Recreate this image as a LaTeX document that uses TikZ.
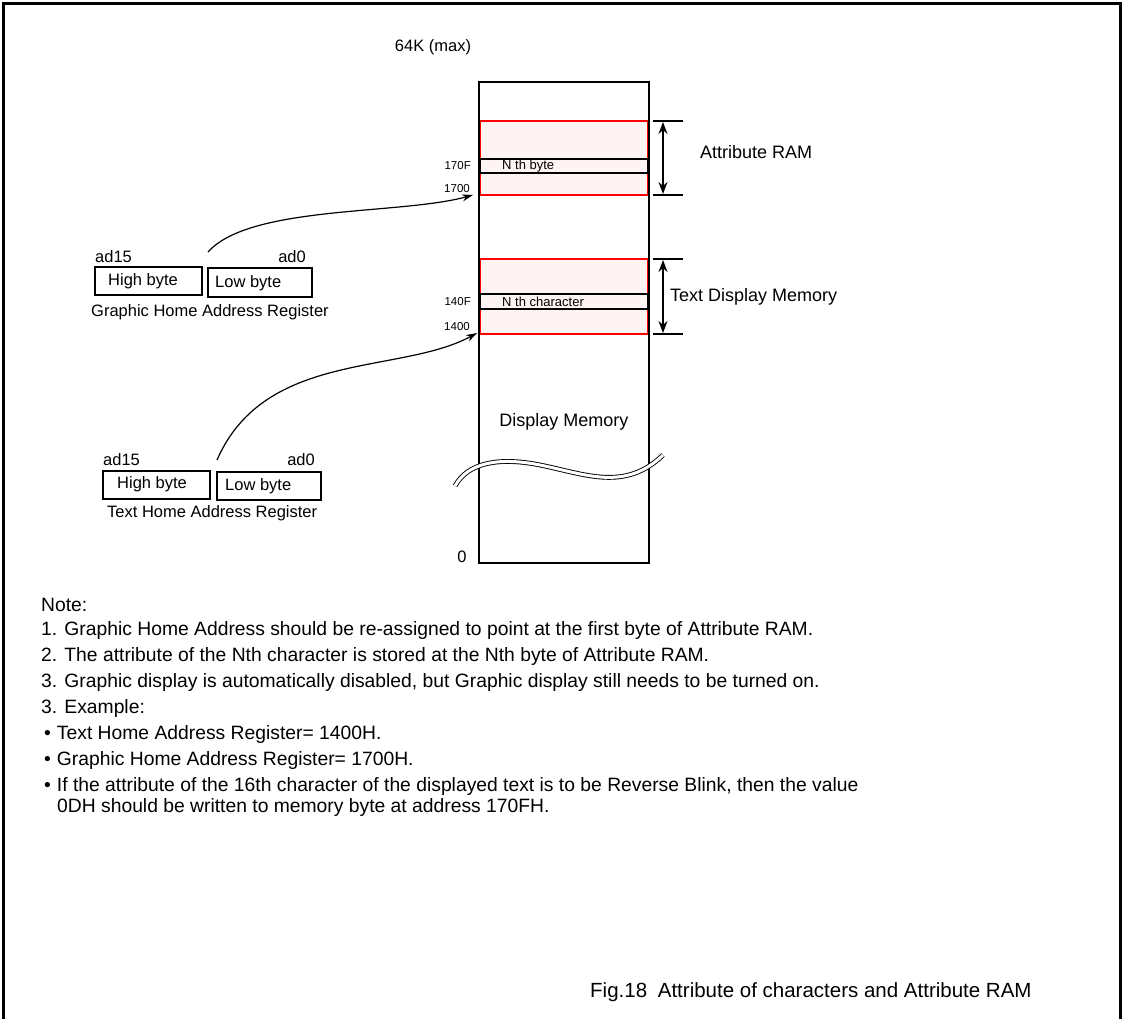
\documentclass[tikz,border=0pt]{standalone}
\usepackage{fontspec}
\setmainfont{Liberation Sans}
\usetikzlibrary{arrows.meta,positioning}
\definecolor{ramfill}{RGB}{255,244,244}
\tikzset{
  ramblock/.style={draw=red, fill=ramfill, line width=1.5pt},
  slot/.style={draw=black, fill=ramfill, line width=1.5pt},
  regbox/.style={draw=black, line width=1.6pt},
  addr/.style={anchor=east, inner sep=0pt, font=\fontsize{11.5}{13}\selectfont},
  label/.style={anchor=west, inner sep=0pt, font=\fontsize{18}{20}\selectfont},
  small/.style={inner sep=0pt, font=\fontsize{16.5}{18}\selectfont},
  notetext/.style={anchor=west, inner sep=0pt, font=\fontsize{19.3}{22}\selectfont},
  pointer/.style={line width=1.2pt, -{Stealth[length=11pt,width=7pt]}},
  dimline/.style={line width=1.4pt}
}
\begin{document}
\begin{tikzpicture}[x=1pt,y=-1pt]
\useasboundingbox (0,0) rectangle (1122,1019);
% outer frame, open at the bottom
\draw[line width=3pt] (3,1019) -- (3,4) -- (1120,4) -- (1120,1019);

\node[small] (max) at (433,47) {64K (max)};

% memory column
\draw[ramblock] (480,121) rectangle (648,159);
\draw[ramblock] (480,173) rectangle (648,195);
\draw[slot] (480,159) rectangle (648,173);
\draw[ramblock] (480,259) rectangle (648,294);
\draw[ramblock] (480,309) rectangle (648,334);
\draw[slot] (480,294) rectangle (648,309);
\draw[line width=2.5pt] (479,82) rectangle (649,563);

\node[anchor=west, inner sep=0pt, font=\fontsize{13}{15}\selectfont] (nbyte) at (502,166) {N th byte};
\node[anchor=west, inner sep=0pt, font=\fontsize{13}{15}\selectfont] (nchar) at (502,302) {N th character};

\node[addr] (a170F) at (471,166) {170F};
\node[addr] (a1700) at (470,189) {1700};
\node[addr] (a140F) at (471,302) {140F};
\node[addr] (a1400) at (470,327) {1400};
\coordinate (p1700) at (473,195);
\coordinate (p1400) at (477,333);

\node[label, anchor=center] (dispmem) at (564,422) {Display Memory};
\node[small] (zero) at (462,557) {0};

% break in the column
\draw[line width=0.9pt, double=white, double distance=3pt]
  (455,486) .. controls (468,462) and (500,457) .. (540,465)
  .. controls (585,474) and (625,492) .. (663,455);

% dimension marks
\draw[dimline] (653,121) -- (683,121);
\draw[dimline] (653,195) -- (683,195);
\draw[dimline, {Stealth[length=12pt,width=9pt]}-{Stealth[length=12pt,width=9pt]}] (663,122) -- (663,194);
\node[label] (attr) at (700,152) {Attribute RAM};

\draw[dimline] (653,259) -- (683,259);
\draw[dimline] (653,334) -- (683,334);
\draw[dimline, {Stealth[length=12pt,width=9pt]}-{Stealth[length=12pt,width=9pt]}] (663,260) -- (663,333);
\node[label] (tdm) at (670,297) {Text Display Memory};

% graphic home address register
\node[small, anchor=west] (gad15) at (95,257) {ad15};
\node[small, anchor=east] (gad0) at (306,257) {ad0};
\draw[regbox] (95,267) rectangle (202,295);
\draw[regbox] (208,268) rectangle (312,297);
\node[small, anchor=west] (ghigh) at (108,281) {High byte};
\node[small, anchor=west] (glow) at (215,283) {Low byte};
\node[small, anchor=west] (gname) at (91,312) {Graphic Home Address Register};
\coordinate (gstart) at (208,252);

% text home address register
\node[small, anchor=west] (tad15) at (103,460) {ad15};
\node[small, anchor=east] (tad0) at (315,460) {ad0};
\draw[regbox] (103,471) rectangle (210,499);
\draw[regbox] (217,472) rectangle (321,500);
\node[small, anchor=west] (thigh) at (117,484) {High byte};
\node[small, anchor=west] (tlow) at (225,486) {Low byte};
\node[small, anchor=west] (tname) at (107,513) {Text Home Address Register};
\coordinate (tstart) at (217,460);

% pointers
\draw[pointer] (gstart) .. controls (250,205) and (400,215) .. (p1700);
\draw[pointer] (tstart) .. controls (265,350) and (400,375) .. (p1400);

% notes
\node[notetext] (note) at (41,605) {Note:};
\node[notetext] (n1) at (41,631) {1. Graphic Home Address should be re-assigned to point at the first byte of Attribute RAM.};
\node[notetext] (n2) at (41,657) {2. The attribute of the Nth character is stored at the Nth byte of Attribute RAM.};
\node[notetext] (n3) at (41,683) {3. Graphic display is automatically disabled, but Graphic display still needs to be turned on.};
\node[notetext] (n4) at (41,709) {3. Example:};
\node[notetext] (b1) at (44,735) {•\hspace{6pt}Text Home Address Register= 1400H.};
\node[notetext] (b2) at (44,761) {•\hspace{6pt}Graphic Home Address Register= 1700H.};
\node[notetext] (b3) at (44,787) {•\hspace{6pt}If the attribute of the 16th character of the displayed text is to be Reverse Blink, then the value};
\node[notetext] (b3b) at (57,808) {0DH should be written to memory byte at address 170FH.};

\node[notetext, font=\fontsize{20.5}{23}\selectfont] (caption) at (590,992) {Fig.18\hspace{5pt} Attribute of characters and Attribute RAM};
\end{tikzpicture}
\end{document}
